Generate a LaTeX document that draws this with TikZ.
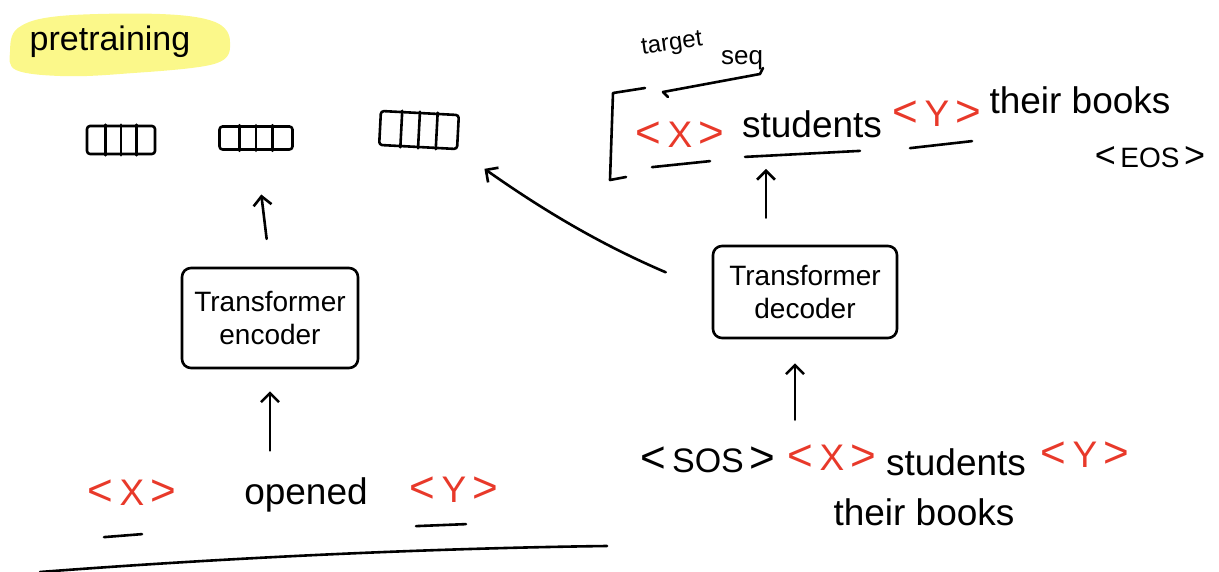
\documentclass[tikz,border=0pt]{standalone}
\usepackage{fontspec}
\setmainfont{Liberation Sans}
\usetikzlibrary{arrows.meta,calc}
\definecolor{hred}{HTML}{E8392A}
\definecolor{hyel}{HTML}{FBF88A}
\newcommand\lbr{{\fontsize{44}{44}\selectfont<}}
\newcommand\rbr{{\fontsize{44}{44}\selectfont>}}
\begin{document}
\begin{tikzpicture}[x=1pt,y=-1pt,line width=2.6pt,line cap=round,line join=round,
  word/.style={inner sep=0pt,font=\fontsize{37}{39}\selectfont},
  rword/.style={word,text=hred},
  vec/.style={draw,inner sep=0pt,rounded corners=3pt},
  tbox/.style={draw,rounded corners=9pt,align=center,inner sep=0pt,font=\fontsize{28}{33}\selectfont},
  arr/.style={-{Straight Barb[length=9pt,width=18pt]}},
  uline/.style={line width=2.6pt}]
\useasboundingbox (0,0) rectangle (1219,572);

% highlight of the title
\fill[hyel] plot[smooth cycle,tension=0.6] coordinates {(10,52) (18,28) (60,16) (160,14) (215,22) (230,42) (214,64) (120,74) (60,76) (16,70)};
\node[word,font=\fontsize{34}{36}\selectfont] (title) at (110,42) {pretraining};

% output vectors
\node[vec,minimum width=68pt,minimum height=28pt] (v1) at (121,140) {};
\node[vec,minimum width=73pt,minimum height=23pt] (v2) at (256,138) {};
\node[vec,minimum width=78pt,minimum height=34pt,rotate=-3] (v3) at (419,130) {};
\foreach \n in {v1,v2,v3}
  \foreach \f in {0.28,0.5,0.72}
    \draw ($(\n.north west)!\f!(\n.north east)$) -- ($(\n.south west)!\f!(\n.south east)$);

% encoder side
\node[tbox,minimum width=176pt,minimum height=100pt] (enc) at (270,318) {Transformer\\encoder};
\node[rword] (lx) at (132,493) {\lbr\,X\,\rbr};
\node[word] (lop) at (306,495) {opened};
\node[rword] (ly) at (454,490) {\lbr\,Y\,\rbr};
\draw[uline] ($(lx.south)+(-28,30)$) -- ($(lx.south)+(10,27)$);
\draw[uline] ($(ly.south)+(-38,22)$) -- ($(ly.south)+(12,20)$);
\draw (40,572) .. controls (250,556) and (450,548) .. (607,546);

\draw[arr,shorten <=28pt,shorten >=44pt] (enc.north) -- (v2.south);
\draw[arr,shorten <=26pt,shorten >=22pt] (enc.south |- lop.north) -- (enc.south);

% decoder side
\node[tbox,minimum width=184pt,minimum height=92pt] (dec) at (805,292) {Transformer\\decoder};
\node[word,font=\fontsize{34}{36}\selectfont] (rsos) at (708,460) {\lbr\,SOS\,\rbr};
\node[rword] (rx) at (832,458) {\lbr\,X\,\rbr};
\node[word] (rs) at (956,462) {students};
\node[rword] (ry) at (1085,455) {\lbr\,Y\,\rbr};
\node[word] (rtb) at (924,512) {their books};

\draw[arr,shorten <=26pt,shorten >=24pt] ([xshift=-10pt]dec.south |- rsos.north) -- ([xshift=-10pt]dec.south);

% target sequence
\node[rword] (tx) at (680,135) {\lbr\,X\,\rbr};
\node[word] (ts) at (812,124) {students};
\node[rword] (ty) at (937,114) {\lbr\,Y\,\rbr};
\node[word] (tt) at (1080,100) {their books};
\node[word,font=\fontsize{28}{30}\selectfont] (te) at (1150,157) {{\fontsize{36}{36}\selectfont<}\,EOS\,{\fontsize{36}{36}\selectfont>}};
\draw[uline] ($(tx.south)+(-28,18)$) -- ($(tx.south)+(30,12)$);
\draw[uline] ($(ts.south)+(-67,18)$) -- ($(ts.south)+(48,12)$);
\draw[uline] ($(ty.south)+(-27,20)$) -- ($(ty.south)+(35,13)$);
\draw (645,88) -- (613,93) -- (610,180) -- (626,177);
\node[word,font=\fontsize{24}{26}\selectfont,rotate=8] (tgt) at (672,45) {target};
\node[word,font=\fontsize{26}{28}\selectfont] (seq) at (742,60) {seq};
\draw (668,97) -- (663,92) -- (760,74) -- (763,68);

\draw[arr,shorten <=27pt,shorten >=30pt] ([xshift=-39pt]dec.north) -- ([xshift=-39pt]dec.north |- ts.south);
\draw[arr,shorten <=50pt,shorten >=32pt] (dec.west) to[bend left=6] (v3.south east);
\end{tikzpicture}
\end{document}
